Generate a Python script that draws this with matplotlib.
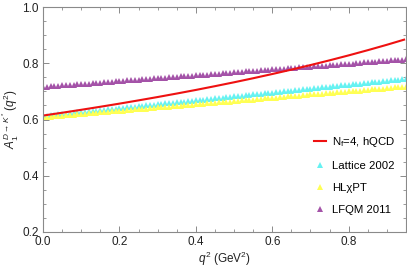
import numpy as np
import matplotlib
matplotlib.use("Agg")
import matplotlib.pyplot as plt

plt.rcParams['font.family'] = ['Liberation Sans', 'DejaVu Sans']
plt.rcParams['mathtext.fontset'] = 'custom'
plt.rcParams['mathtext.rm'] = 'Liberation Sans'
plt.rcParams['mathtext.it'] = 'Liberation Sans:italic'

# q^2 grid of the point sets (GeV^2)
q2_pts = np.arange(96) / 100.0

lattice = [0.612, 0.613, 0.615, 0.616, 0.618, 0.619, 0.620, 0.622, 0.623, 0.625,
           0.626, 0.627, 0.629, 0.630, 0.632, 0.633, 0.634, 0.636, 0.637, 0.639,
           0.640, 0.641, 0.643, 0.644, 0.646, 0.647, 0.648, 0.650, 0.651, 0.653,
           0.654, 0.655, 0.657, 0.658, 0.660, 0.661, 0.662, 0.664, 0.665, 0.667,
           0.668, 0.669, 0.671, 0.672, 0.674, 0.675, 0.676, 0.678, 0.679, 0.681,
           0.682, 0.683, 0.685, 0.686, 0.688, 0.689, 0.690, 0.692, 0.693, 0.695,
           0.696, 0.697, 0.699, 0.700, 0.702, 0.703, 0.704, 0.706, 0.707, 0.709,
           0.710, 0.711, 0.713, 0.714, 0.716, 0.717, 0.718, 0.720, 0.721, 0.723,
           0.724, 0.725, 0.727, 0.728, 0.730, 0.731, 0.732, 0.734, 0.735, 0.737,
           0.738, 0.739, 0.741, 0.742, 0.744, 0.745]

hlxpt = [0.608, 0.609, 0.610, 0.611, 0.613, 0.614, 0.615, 0.616, 0.617, 0.618,
         0.620, 0.621, 0.622, 0.623, 0.624, 0.625, 0.626, 0.628, 0.629, 0.630,
         0.631, 0.632, 0.633, 0.634, 0.636, 0.637, 0.638, 0.639, 0.640, 0.641,
         0.643, 0.644, 0.645, 0.646, 0.647, 0.648, 0.649, 0.651, 0.652, 0.653,
         0.654, 0.655, 0.656, 0.657, 0.659, 0.660, 0.661, 0.662, 0.663, 0.664,
         0.666, 0.667, 0.668, 0.669, 0.670, 0.671, 0.672, 0.674, 0.675, 0.676,
         0.677, 0.678, 0.679, 0.680, 0.682, 0.683, 0.684, 0.685, 0.686, 0.687,
         0.689, 0.690, 0.691, 0.692, 0.693, 0.694, 0.695, 0.697, 0.698, 0.699,
         0.700, 0.701, 0.702, 0.703, 0.705, 0.706, 0.707, 0.708, 0.709, 0.710,
         0.712, 0.713, 0.714, 0.715, 0.716, 0.717]

lfqm = [0.716, 0.717, 0.718, 0.719, 0.720, 0.721, 0.722, 0.723, 0.724, 0.725,
        0.726, 0.727, 0.728, 0.729, 0.730, 0.731, 0.732, 0.734, 0.735, 0.736,
        0.737, 0.738, 0.739, 0.740, 0.741, 0.742, 0.743, 0.744, 0.745, 0.746,
        0.747, 0.748, 0.749, 0.750, 0.751, 0.752, 0.753, 0.754, 0.755, 0.756,
        0.757, 0.758, 0.759, 0.760, 0.761, 0.762, 0.763, 0.764, 0.765, 0.766,
        0.768, 0.769, 0.770, 0.771, 0.772, 0.773, 0.774, 0.775, 0.776, 0.777,
        0.778, 0.779, 0.780, 0.781, 0.782, 0.783, 0.784, 0.785, 0.786, 0.787,
        0.788, 0.789, 0.790, 0.791, 0.792, 0.793, 0.794, 0.795, 0.796, 0.797,
        0.798, 0.799, 0.800, 0.801, 0.803, 0.804, 0.805, 0.806, 0.807, 0.808,
        0.809, 0.810, 0.811, 0.812, 0.813, 0.814]

# hQCD curve
q2_line = [0.0, 0.05, 0.10, 0.15, 0.20, 0.25, 0.30, 0.35, 0.40, 0.45, 0.50,
           0.55, 0.60, 0.65, 0.70, 0.75, 0.80, 0.85, 0.90, 0.945]
hqcd = [0.614, 0.624, 0.6345, 0.6453, 0.6564, 0.668, 0.6799, 0.6923, 0.7051,
        0.7185, 0.7323, 0.7467, 0.7617, 0.7772, 0.7935, 0.8104, 0.828, 0.8465,
        0.8657, 0.8839]

fig = plt.figure(figsize=(4.07, 2.70), dpi=100)
ax = fig.add_axes([43/407, 1-232/270, 363/407, 225/270])

ms = 4.2
ax.plot(q2_pts, lattice, '^', color='#66f2f2', ms=ms, mew=0, label='Lattice 2002')
ax.plot(q2_pts, hlxpt, '^', color='#ffff55', ms=ms, mew=0, label='HLχPT')
ax.plot(q2_pts, lfqm, '^', color='#a453a8', ms=ms, mew=0, label='LFQM 2011')
ax.plot(q2_line, hqcd, '-', color='#ee1111', lw=1.5, label=r'N$_\mathrm{f}$=4, hQCD')

ax.set_xlim(0, 0.95)
ax.set_ylim(0.2, 1.0)
ax.set_xticks([0.0, 0.2, 0.4, 0.6, 0.8])
ax.set_yticks([0.2, 0.4, 0.6, 0.8, 1.0])
ax.set_xticks(np.arange(0, 0.951, 0.05), minor=True)
ax.set_yticks(np.arange(0.2, 1.001, 0.05), minor=True)

for s in ax.spines.values():
    s.set_color('#8a8a8a')
    s.set_linewidth(0.8)
ax.tick_params(which='both', direction='in', top=True, right=True,
               color='#8a8a8a', labelsize=8.5, labelcolor='#222222', pad=3)
ax.tick_params(which='major', length=4, width=0.7)
ax.tick_params(which='minor', length=2, width=0.6)

ax.set_xlabel(r'$q^2$ (GeV$^2$)', fontsize=8.5, color='#222222', labelpad=1.5)
ax.set_ylabel(r'$A_1^{D\to K^*}\,(q^2)$', fontsize=8.5, color='#222222', labelpad=1)

h, l = ax.get_legend_handles_labels()
order = [3, 0, 1, 2]
ax.legend([h[i] for i in order], [l[i] for i in order], loc='upper left',
          bbox_to_anchor=(0.735, 0.45), frameon=False, fontsize=8.2,
          handlelength=1.05, handletextpad=0.5, labelspacing=1.05,
          borderaxespad=0, markerscale=1.1)

fig.savefig('out.png', dpi=100)
